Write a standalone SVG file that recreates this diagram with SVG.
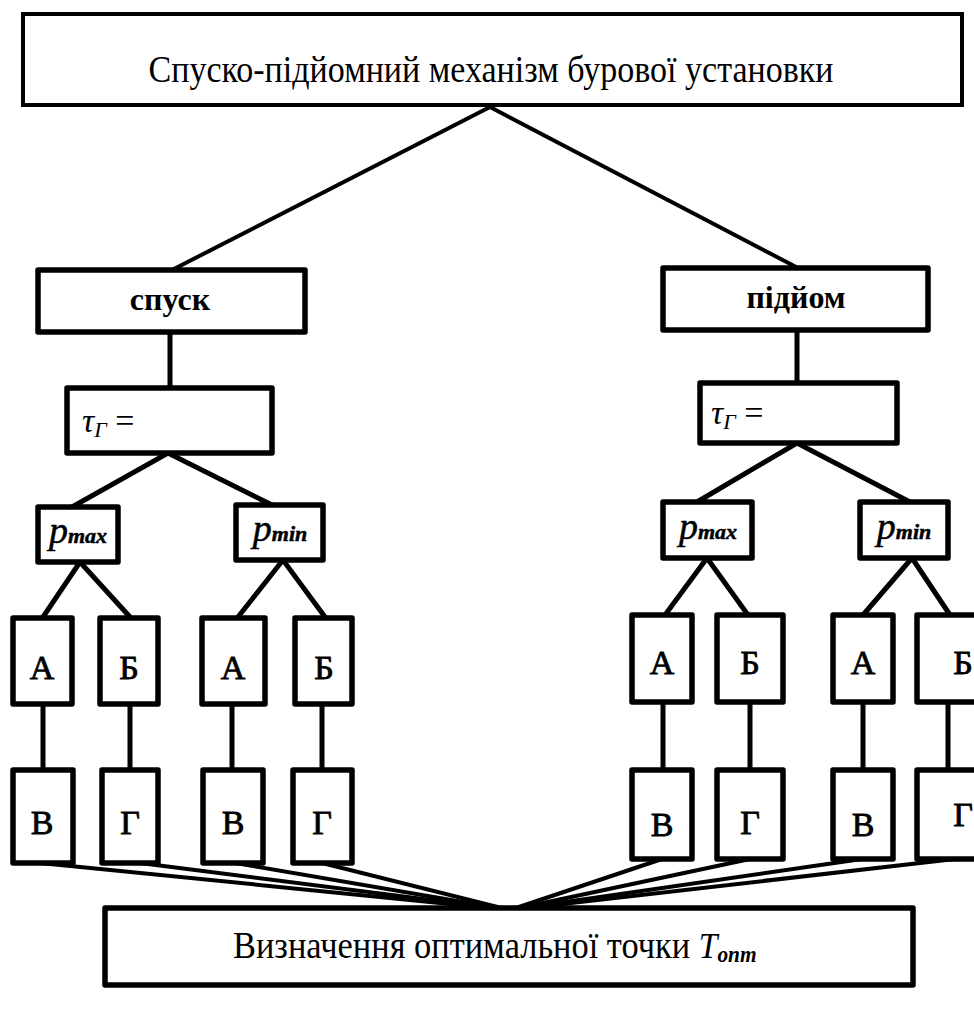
<svg xmlns="http://www.w3.org/2000/svg" width="974" height="1016" viewBox="0 0 974 1016">
<style>
.bx{fill:#fff;stroke:#000;stroke-width:5.5;stroke-linejoin:round}
.bt{fill:#fff;stroke:#000;stroke-width:4}
.ln{stroke:#000;stroke-width:5;fill:none;stroke-linecap:round}
.lt{stroke:#000;stroke-width:4;fill:none;stroke-linecap:round}
.t{font-family:"Liberation Serif","Times New Roman",serif;fill:#000}
.big{font-size:37px}
.bold{font-size:32px;font-weight:bold}
.it{font-style:italic}
.let{font-size:34px;text-anchor:middle;stroke:#000;stroke-width:0.8}
.pp{font-size:38px;font-style:italic;text-anchor:middle;stroke:#000;stroke-width:0.5}
.sub{font-size:22px;font-weight:bold}
</style>
<rect width="974" height="1016" fill="#fff"/>
<g id="connectors">
<polyline class="lt" points="172,270 490,107 798,268"/>
<line class="ln" x1="170" y1="332" x2="170" y2="388"/>
<polyline class="ln" points="72,507 168,453 272,505"/>
<polyline class="ln" points="43,617 80,562 130,617"/>
<polyline class="ln" points="238,617 283,560 325,617"/>
<line class="ln" x1="43" y1="704" x2="43" y2="770"/>
<line class="ln" x1="130" y1="704" x2="130" y2="770"/>
<line class="ln" x1="232" y1="704" x2="232" y2="770"/>
<line class="ln" x1="322" y1="704" x2="322" y2="770"/>
<line class="ln" x1="797" y1="330" x2="797" y2="383"/>
<polyline class="ln" points="697,502 797,443 910,502"/>
<polyline class="ln" points="665,615 707,558 748,615"/>
<polyline class="ln" points="863,615 912,558 950,615"/>
<line class="ln" x1="663" y1="702" x2="663" y2="770"/>
<line class="ln" x1="750" y1="702" x2="750" y2="770"/>
<line class="ln" x1="863" y1="702" x2="863" y2="770"/>
<line class="ln" x1="948" y1="702" x2="948" y2="770"/>
<g class="lt">
<line x1="40" y1="863" x2="510" y2="910"/>
<line x1="140" y1="863" x2="510" y2="910"/>
<line x1="235" y1="863" x2="510" y2="910"/>
<line x1="322" y1="863" x2="510" y2="910"/>
<line x1="662" y1="859" x2="510" y2="910"/>
<line x1="750" y1="859" x2="510" y2="910"/>
<line x1="862" y1="859" x2="510" y2="910"/>
<line x1="955" y1="859" x2="510" y2="910"/>
</g>
</g>
<g id="top"><rect class="bt" x="23" y="14" width="939" height="91"/><text class="t big" x="491" y="82" text-anchor="middle" textLength="685" lengthAdjust="spacingAndGlyphs">Спуско-підйомний механізм бурової установки</text></g>
<g id="spusk"><rect class="bx" x="38" y="270" width="267" height="62"/><text class="t bold" x="170" y="310" text-anchor="middle">спуск</text></g>
<g id="pidyom"><rect class="bx" x="663" y="268" width="265" height="62"/><text class="t bold" x="796" y="308" text-anchor="middle">підйом</text></g>
<g id="tauL"><rect class="bx" x="67" y="388" width="205" height="65"/><text class="t it" x="82" y="432" font-size="34">τ<tspan font-size="22" dy="5">Г</tspan><tspan font-style="normal" dy="-5"> =</tspan></text></g>
<g id="tauR"><rect class="bx" x="700" y="383" width="197" height="60"/><text class="t it" x="711" y="424" font-size="34">τ<tspan font-size="22" dy="5">Г</tspan><tspan font-style="normal" dy="-5"> =</tspan></text></g>
<g id="pmaxL"><rect class="bx" x="38" y="507" width="80" height="55"/><text class="t pp" x="78" y="543">p<tspan class="sub">max</tspan></text></g>
<g id="pminL"><rect class="bx" x="236" y="505" width="87" height="55"/><text class="t pp" x="280" y="541">p<tspan class="sub">min</tspan></text></g>
<g id="pmaxR"><rect class="bx" x="663" y="502" width="89" height="56"/><text class="t pp" x="708" y="539">p<tspan class="sub">max</tspan></text></g>
<g id="pminR"><rect class="bx" x="860" y="502" width="88" height="56"/><text class="t pp" x="904" y="539">p<tspan class="sub">min</tspan></text></g>
<g id="L_A1"><rect class="bx" x="13" y="618" width="59" height="86"/><text class="t let" x="42" y="679">А</text></g>
<g id="L_B1"><rect class="bx" x="100" y="618" width="58" height="86"/><text class="t let" x="129" y="679">Б</text></g>
<g id="L_A2"><rect class="bx" x="202" y="618" width="63" height="86"/><text class="t let" x="233" y="679">А</text></g>
<g id="L_B2"><rect class="bx" x="295" y="618" width="57" height="86"/><text class="t let" x="324" y="679">Б</text></g>
<g id="L_V1"><rect class="bx" x="13" y="770" width="60" height="93"/><text class="t let" x="42" y="834">В</text></g>
<g id="L_G1"><rect class="bx" x="102" y="770" width="56" height="93"/><text class="t let" x="130" y="834">Г</text></g>
<g id="L_V2"><rect class="bx" x="203" y="770" width="60" height="93"/><text class="t let" x="233" y="834">В</text></g>
<g id="L_G2"><rect class="bx" x="293" y="770" width="59" height="93"/><text class="t let" x="322" y="834">Г</text></g>
<g id="R_A1"><rect class="bx" x="632" y="615" width="60" height="87"/><text class="t let" x="662" y="674">А</text></g>
<g id="R_B1"><rect class="bx" x="717" y="615" width="66" height="87"/><text class="t let" x="750" y="674">Б</text></g>
<g id="R_A2"><rect class="bx" x="833" y="615" width="60" height="87"/><text class="t let" x="863" y="674">А</text></g>
<g id="R_B2"><rect class="bx" x="917" y="615" width="62" height="87"/><text class="t let" x="963" y="674">Б</text></g>
<g id="R_V1"><rect class="bx" x="632" y="770" width="60" height="89"/><text class="t let" x="662" y="836">В</text></g>
<g id="R_G1"><rect class="bx" x="717" y="770" width="66" height="89"/><text class="t let" x="750" y="834">Г</text></g>
<g id="R_V2"><rect class="bx" x="833" y="770" width="60" height="89"/><text class="t let" x="863" y="836">В</text></g>
<g id="R_G2"><rect class="bx" x="917" y="770" width="62" height="89"/><text class="t let" x="963" y="826">Г</text></g>
<g id="bottom"><rect class="bx" x="105" y="908" width="808" height="77"/><text class="t big" transform="translate(233,958) scale(0.93,1)">Визначення оптимальної точки <tspan class="it" font-size="36">T</tspan><tspan class="it" font-size="23" font-weight="bold" dy="4">опт</tspan></text></g>
</svg>
